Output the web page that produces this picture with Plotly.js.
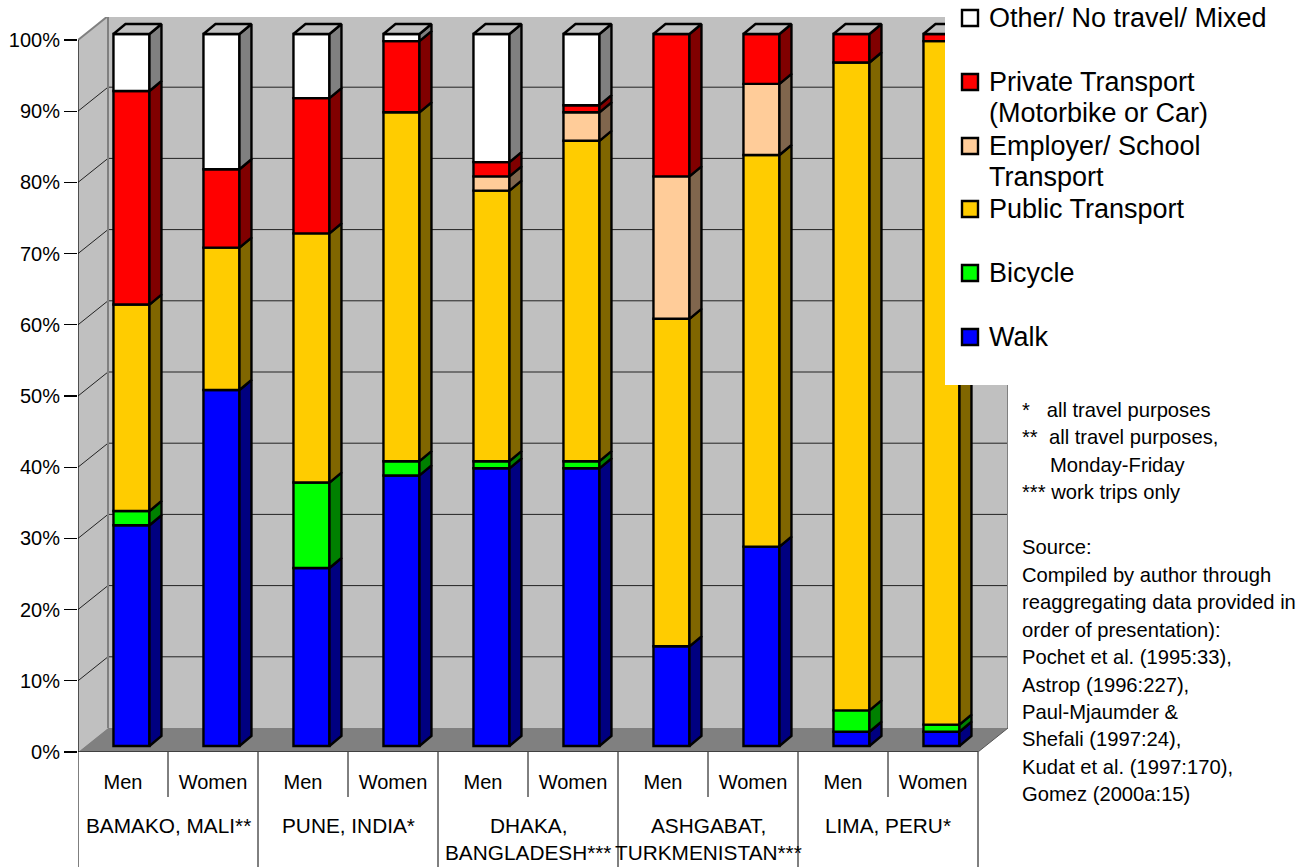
<!DOCTYPE html>
<html>
<head>
<meta charset="utf-8">
<script src="https://cdn.plot.ly/plotly-3.0.1.min.js"></script>
<style>html,body{margin:0;padding:0;background:#fff;overflow:hidden}</style>
</head>
<body>
<div id="chart" style="width:1315px;height:867px"></div>
<script>
const groups = ["BAMAKO, MALI**", "PUNE, INDIA*", "DHAKA,<br>BANGLADESH***", "ASHGABAT,<br>TURKMENISTAN***", "LIMA, PERU*"];
const genders = ["Men", "Women"];
const walk     = [31, 50, 25, 38, 39, 39, 14, 28, 2, 2];
const bicycle  = [2, 0, 12, 2, 1, 1, 0, 0, 3, 1];
const publicTr = [29, 20, 35, 49, 38, 45, 46, 55, 91, 96];
const employer = [0, 0, 0, 0, 2, 4, 20, 10, 0, 0];
const privateTr= [30, 11, 19, 10, 2, 1, 20, 7, 4, 1];
const other    = [8, 19, 9, 1, 18, 10, 0, 0, 0, 0];
const percentTicks = [0, 10, 20, 30, 40, 50, 60, 70, 80, 90, 100];
const seriesNames = ["Walk", "Bicycle", "Public Transport", "Employer/ School Transport", "Private Transport (Motorbike or Car)", "Other/ No travel/ Mixed"];
const frontColors = ["#0000FF", "#00FF00", "#FFCC00", "#FFCC99", "#FF0000", "#FFFFFF"];
const sideColors  = ["#000080", "#008000", "#806600", "#80664D", "#800000", "#808080"];
const legendLines = [
  ["Other/ No travel/ Mixed"],
  ["Private Transport", "(Motorbike or Car)"],
  ["Employer/ School", "Transport"],
  ["Public Transport"],
  ["Bicycle"],
  ["Walk"]
];
const legendColors = ["#FFFFFF", "#FF0000", "#FFCC99", "#FFCC00", "#00FF00", "#0000FF"];
const noteLines = [
  "*\u00a0\u00a0\u00a0all travel purposes",
  "**\u00a0\u00a0all travel purposes,",
  "\u00a0\u00a0\u00a0\u00a0\u00a0Monday-Friday",
  "***\u00a0work trips only",
  "",
  "Source:",
  "Compiled by author through",
  "reaggregating data provided in",
  "order of presentation):",
  "Pochet et al. (1995:33),",
  "Astrop (1996:227),",
  "Paul-Mjaumder &",
  "Shefali (1997:24),",
  "Kudat et al. (1997:170),",
  "Gomez (2000a:15)"
];
const allSeries = [walk, bicycle, publicTr, employer, privateTr, other];

// geometry of the pseudo-3D projection
const L = 78, T = 17, W = 930, H = 735, PXX = 90, PXY = 7.12;
const px = x => (x - L) / W;
const py = y => (T + H - y) / H;
const wallDX = 30 / PXX, wallDY = 24 / PXY;
const barDX = 12 / PXX, barDY = 10 / PXY;
const barShift = 0.094, barBase = 6 / PXY, barW = 36 / PXX;
const nCats = walk.length;
const STROKE = 2.4;
const xs = walk.map((_, i) => i + 0.5 + barShift);
const right = i => xs[i] + barW / 2, left = i => xs[i] - barW / 2;

const traces = [];
const cum = walk.map(() => barBase);
allSeries.forEach((vals, s) => {
  const bases = cum.slice();
  traces.push({
    type: "bar", name: seriesNames[s], x: xs, y: vals.map(v => v || null), base: bases,
    width: barW, marker: {color: frontColors[s], line: {color: "#000", width: STROKE}},
    showlegend: false, hoverinfo: "skip"
  });
  const sx = [], sy = [];
  vals.forEach((v, i) => {
    if (!v) return;
    const y0 = bases[i], y1 = bases[i] + v, xr = right(i);
    sx.push(xr, xr + barDX, xr + barDX, xr, xr, null);
    sy.push(y0, y0 + barDY, y1 + barDY, y1, y0, null);
  });
  traces.push({
    type: "scatter", mode: "lines", x: sx, y: sy, fill: "toself", fillcolor: sideColors[s],
    line: {color: "#000", width: STROKE}, showlegend: false, hoverinfo: "skip"
  });
  vals.forEach((v, i) => { cum[i] += v; });
});
const tx = [], ty = [];
cum.forEach((c, i) => {
  tx.push(left(i), left(i) + barDX, right(i) + barDX, right(i), left(i), null);
  ty.push(c, c + barDY, c + barDY, c, c, null);
});
traces.push({
  type: "scatter", mode: "lines", x: tx, y: ty, fill: "toself", fillcolor: "#C0C0C0",
  line: {color: "#000", width: STROKE}, showlegend: false, hoverinfo: "skip"
});

const poly = pts => "M" + pts.map(p => p[0] + "," + p[1]).join("L") + "Z";
const shapes = [];
const xTop = nCats + wallDX, yTop = 100 + wallDY;
// back wall, side wall, floor
shapes.push({type: "path", layer: "below", xref: "x", yref: "y", path: poly([[wallDX, wallDY], [xTop, wallDY], [xTop, yTop], [wallDX, yTop]]), fillcolor: "#C0C0C0", line: {width: 0}});
shapes.push({type: "path", layer: "below", xref: "x", yref: "y", path: poly([[0, 0], [wallDX, wallDY], [wallDX, yTop], [0, 100]]), fillcolor: "#C0C0C0", line: {width: 0}});
shapes.push({type: "path", layer: "below", xref: "x", yref: "y", path: poly([[0, 0], [nCats, 0], [xTop, wallDY], [wallDX, wallDY]]), fillcolor: "#808080", line: {width: 0}});
// gridlines
for (let g = 10; g <= 90; g += 10) {
  shapes.push({type: "line", layer: "below", xref: "x", yref: "y", x0: 0, y0: g, x1: wallDX, y1: g + wallDY, line: {color: "#222", width: 1}});
  shapes.push({type: "line", layer: "below", xref: "x", yref: "y", x0: wallDX, y0: g + wallDY, x1: xTop, y1: g + wallDY, line: {color: "#222", width: 1}});
}
// wall edges
const edge = {color: "#808080", width: 2};
[[0, 100, wallDX, yTop], [wallDX, yTop, xTop, yTop], [wallDX, wallDY, wallDX, yTop], [xTop, wallDY, xTop, yTop]].forEach(e => {
  shapes.push({type: "line", layer: "below", xref: "x", yref: "y", x0: e[0], y0: e[1], x1: e[2], y1: e[3], line: edge});
});
shapes.push({type: "line", layer: "below", xref: "x", yref: "y", x0: nCats, y0: 0, x1: xTop, y1: wallDY, line: {color: "#555", width: 1}});
// axis lines
shapes.push({type: "line", layer: "above", xref: "x", yref: "y", x0: 0, y0: 0, x1: 0, y1: 100, line: {color: "#000", width: 1.2}});
shapes.push({type: "line", layer: "above", xref: "x", yref: "y", x0: 0, y0: 0, x1: nCats, y1: 0, line: {color: "#000", width: 1.2}});
// category dividers
for (let i = 0; i <= nCats; i++) {
  const major = i % 2 === 0;
  shapes.push({type: "line", xref: "x", yref: "paper", x0: i, x1: i, y0: 0, y1: py(major ? 867 : 797), line: {color: "#000", width: 1}});
}
// legend panel
shapes.push({type: "rect", layer: "above", xref: "paper", yref: "paper", x0: px(945), x1: px(1315), y0: py(385), y1: py(-5), fillcolor: "#fff", line: {width: 0}});

const annotations = [];
const note = (text, x, y, size, xanchor) => annotations.push({
  text, xref: "paper", yref: "paper", x: px(x), y: py(y), xanchor: xanchor || "left", yanchor: "middle",
  showarrow: false, font: {family: "Liberation Sans, Arial, sans-serif", size, color: "#000"}, align: xanchor === "center" ? "center" : "left",
  borderpad: 0, borderwidth: 0
});
// legend
const centers = [18, 82, 146, 209, 273, 337];
legendLines.forEach((ls, k) => {
  const c = centers[k];
  shapes.push({type: "rect", layer: "above", xref: "paper", yref: "paper", x0: px(962), x1: px(978), y0: py(c + 8), y1: py(c - 8), fillcolor: legendColors[k], line: {color: "#000", width: STROKE}});
  ls.forEach((t, j) => note(t, 989, c + j * 31.5, 27));
});
// notes
noteLines.forEach((t, k) => { if (t) note(t, 1022, 410 + k * 27.45, 20.2); });
// group labels
groups.forEach((g, k) => {
  const parts = g.split("<br>");
  parts.forEach((p, j) => note(p, L + PXX * (2 * k + 1), 825 + j * 27, 20.8, "center"));
});

const layout = {
  width: 1315, height: 867, autosize: false,
  margin: {l: L, r: 1315 - L - W, t: T, b: 867 - T - H, pad: 0},
  paper_bgcolor: "#fff", plot_bgcolor: "rgba(0,0,0,0)",
  barmode: "overlay", hovermode: false, showlegend: false,
  font: {family: "Liberation Sans, Arial, sans-serif", size: 20, color: "#000"},
  xaxis: {
    range: [0, W / PXX], type: "linear", showgrid: false, zeroline: false, showline: false,
    tickmode: "array", tickvals: walk.map((_, i) => i + 0.5),
    ticktext: walk.map((_, i) => genders[i % 2]), ticks: "", ticklabelstandoff: 16,
    tickfont: {size: 20, family: "Liberation Sans, Arial, sans-serif"}
  },
  yaxis: {
    range: [0, H / PXY], showgrid: false, zeroline: false, showline: false,
    tickmode: "array", tickvals: percentTicks, ticktext: percentTicks.map(v => v + "%"),
    ticks: "outside", ticklen: 13, tickwidth: 1.2, tickcolor: "#000", ticklabelstandoff: 0,
    tickfont: {size: 20, family: "Liberation Sans, Arial, sans-serif"}
  },
  shapes, annotations
};
Plotly.newPlot("chart", traces, layout, {displayModeBar: false, staticPlot: true});
</script>
</body>
</html>
